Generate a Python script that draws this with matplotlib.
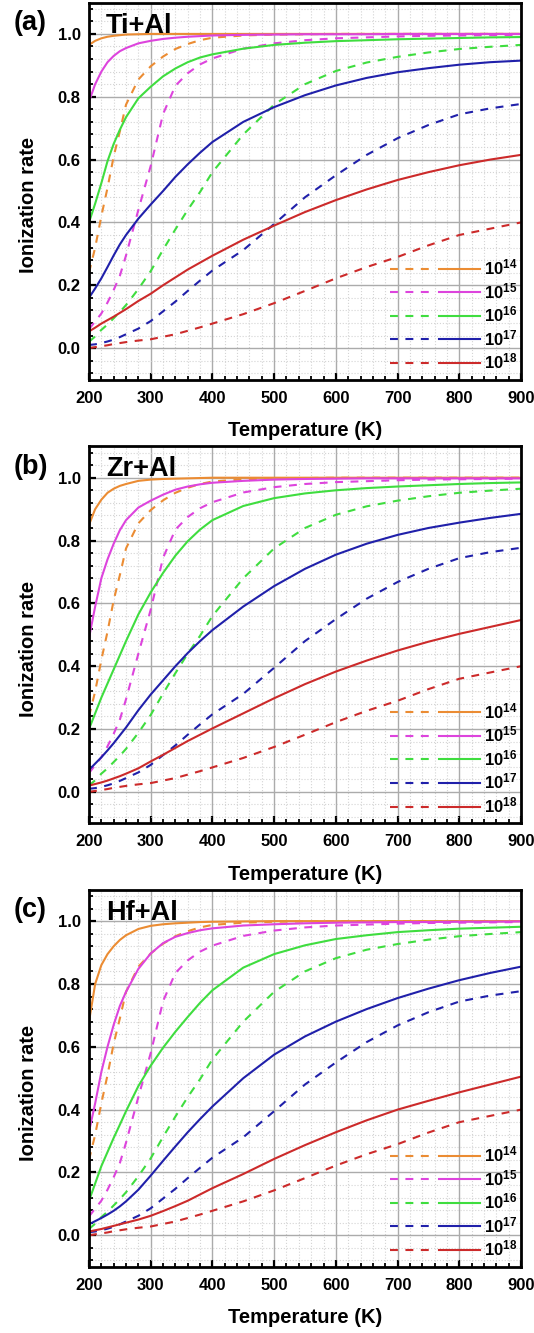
import matplotlib
matplotlib.use("Agg")
import matplotlib.pyplot as plt
from matplotlib.ticker import MultipleLocator
from matplotlib.legend_handler import HandlerTuple

plt.rcParams["font.family"] = ["Liberation Sans", "DejaVu Sans"]
plt.rcParams["font.weight"] = "bold"
plt.rcParams["mathtext.fontset"] = "custom"
plt.rcParams["mathtext.rm"] = "Liberation Sans:bold"
plt.rcParams["mathtext.bf"] = "Liberation Sans:bold"

# temperature grid (K)
T = [200, 210, 220, 230, 240, 250, 260, 280, 300, 320, 340, 360, 380, 400,
     450, 500, 550, 600, 650, 700, 750, 800, 850, 900]

doping = ["14", "15", "16", "17", "18"]
colors = ["#EB8C33", "#DD44DD", "#3FDD3F", "#2020AA", "#CC2A2A"]

# dashed curves (same in every panel)
d14 = [0.24, 0.32, 0.42, 0.51, 0.61, 0.69, 0.775, 0.855, 0.897, 0.928, 0.952, 0.968, 0.98, 0.988,
       0.995, 0.998, 0.999, 1.0, 1.0, 1.0, 1.0, 1.0, 1.0, 1.0]
d15 = [0.06, 0.085, 0.11, 0.145, 0.185, 0.23, 0.295, 0.44, 0.58, 0.745, 0.835, 0.875, 0.903, 0.922,
       0.953, 0.97, 0.98, 0.986, 0.989, 0.992, 0.994, 0.995, 0.996, 0.997]
d16 = [0.02, 0.037, 0.058, 0.075, 0.095, 0.115, 0.137, 0.188, 0.245, 0.313, 0.378, 0.44, 0.497, 0.56,
       0.68, 0.775, 0.84, 0.882, 0.909, 0.927, 0.941, 0.952, 0.959, 0.965]
d17 = [0.01, 0.012, 0.016, 0.021, 0.027, 0.035, 0.044, 0.062, 0.086, 0.117, 0.148, 0.182, 0.215, 0.247,
       0.312, 0.395, 0.48, 0.55, 0.615, 0.668, 0.71, 0.744, 0.763, 0.777]
d18 = [0.0, 0.003, 0.006, 0.009, 0.013, 0.016, 0.019, 0.024, 0.028, 0.036, 0.044, 0.055, 0.066, 0.078,
       0.108, 0.143, 0.182, 0.222, 0.258, 0.29, 0.327, 0.36, 0.38, 0.40]

# (a) Ti+Al
a14 = [0.965, 0.978, 0.986, 0.991, 0.994, 0.996, 0.998, 0.999, 1.0, 1.0, 1.0, 1.0, 1.0, 1.0,
       1.0, 1.0, 1.0, 1.0, 1.0, 1.0, 1.0, 1.0, 1.0, 1.0]
a15 = [0.785, 0.84, 0.88, 0.91, 0.93, 0.945, 0.955, 0.97, 0.978, 0.984, 0.988, 0.991, 0.993, 0.995,
       0.997, 0.998, 0.999, 0.999, 0.999, 1.0, 1.0, 1.0, 1.0, 1.0]
a16 = [0.40, 0.46, 0.525, 0.595, 0.65, 0.695, 0.735, 0.795, 0.832, 0.865, 0.89, 0.91, 0.925, 0.935,
       0.953, 0.965, 0.972, 0.977, 0.98, 0.983, 0.985, 0.987, 0.989, 0.99]
a17 = [0.16, 0.19, 0.222, 0.258, 0.295, 0.33, 0.36, 0.412, 0.457, 0.50, 0.545, 0.585, 0.622, 0.656,
       0.72, 0.767, 0.805, 0.836, 0.86, 0.878, 0.891, 0.902, 0.91, 0.915]
a18 = [0.053, 0.065, 0.078, 0.089, 0.10, 0.112, 0.124, 0.15, 0.173, 0.20, 0.225, 0.25, 0.272, 0.294,
       0.345, 0.39, 0.433, 0.471, 0.505, 0.535, 0.56, 0.582, 0.60, 0.615]

# (b) Zr+Al
b14 = [0.85, 0.90, 0.93, 0.952, 0.965, 0.974, 0.98, 0.99, 0.994, 0.996, 0.997, 0.998, 0.999, 1.0,
       1.0, 1.0, 1.0, 1.0, 1.0, 1.0, 1.0, 1.0, 1.0, 1.0]
b15 = [0.49, 0.59, 0.68, 0.74, 0.79, 0.833, 0.865, 0.905, 0.927, 0.946, 0.962, 0.972, 0.979, 0.984,
       0.99, 0.994, 0.996, 0.997, 0.998, 0.998, 0.998, 0.998, 0.998, 0.998]
b16 = [0.20, 0.25, 0.30, 0.345, 0.39, 0.435, 0.48, 0.565, 0.635, 0.697, 0.752, 0.798, 0.835, 0.865,
       0.91, 0.935, 0.95, 0.96, 0.967, 0.972, 0.976, 0.98, 0.983, 0.985]
b17 = [0.07, 0.09, 0.11, 0.132, 0.155, 0.18, 0.205, 0.26, 0.31, 0.355, 0.40, 0.442, 0.48, 0.515,
       0.59, 0.655, 0.71, 0.755, 0.79, 0.818, 0.84, 0.857, 0.872, 0.885]
b18 = [0.02, 0.025, 0.03, 0.036, 0.043, 0.05, 0.058, 0.075, 0.097, 0.118, 0.14, 0.162, 0.182, 0.202,
       0.25, 0.298, 0.343, 0.383, 0.418, 0.45, 0.478, 0.503, 0.525, 0.547]

# (c) Hf+Al
c14 = [0.68, 0.80, 0.86, 0.895, 0.92, 0.94, 0.955, 0.975, 0.985, 0.99, 0.993, 0.995, 0.997, 0.998,
       0.999, 1.0, 1.0, 1.0, 1.0, 1.0, 1.0, 1.0, 1.0, 1.0]
c15 = [0.33, 0.42, 0.52, 0.60, 0.67, 0.73, 0.775, 0.848, 0.897, 0.93, 0.95, 0.962, 0.971, 0.977,
       0.986, 0.99, 0.993, 0.995, 0.996, 0.997, 0.997, 0.998, 0.998, 0.999]
c16 = [0.11, 0.165, 0.22, 0.265, 0.31, 0.352, 0.395, 0.475, 0.54, 0.597, 0.648, 0.695, 0.74, 0.78,
       0.852, 0.895, 0.923, 0.943, 0.955, 0.965, 0.971, 0.976, 0.979, 0.982]
c17 = [0.035, 0.045, 0.055, 0.066, 0.078, 0.092, 0.108, 0.145, 0.19, 0.237, 0.283, 0.328, 0.37, 0.41,
       0.50, 0.575, 0.633, 0.68, 0.72, 0.755, 0.785, 0.812, 0.835, 0.855]
c18 = [0.012, 0.016, 0.02, 0.025, 0.03, 0.035, 0.04, 0.05, 0.062, 0.077, 0.093, 0.11, 0.13, 0.15,
       0.195, 0.243, 0.287, 0.328, 0.366, 0.40, 0.428, 0.455, 0.48, 0.505]

dashed = [d14, d15, d16, d17, d18]
panels = [
    ("(a)", "Ti+Al", [a14, a15, a16, a17, a18]),
    ("(b)", "Zr+Al", [b14, b15, b16, b17, b18]),
    ("(c)", "Hf+Al", [c14, c15, c16, c17, c18]),
]

fig = plt.figure(figsize=(5.34, 13.33), dpi=100)
left, width = 89 / 534, 432 / 534
bottoms = [1 - 379.5 / 1333, 1 - 823.3 / 1333, 1 - 1266.7 / 1333]
height = 377 / 1333

for (plabel, title, solids), bot in zip(panels, bottoms):
    ax = fig.add_axes([left, bot, width, height])
    handles = []
    for i in range(5):
        ld, = ax.plot(T, dashed[i], color=colors[i], lw=1.5, ls=(0, (3.8, 3.6)))
        ls_, = ax.plot(T, solids[i], color=colors[i], lw=1.5)
        handles.append((ld, ls_))

    ax.set_xlim(200, 900)
    ax.set_ylim(-0.1, 1.1)
    ax.xaxis.set_major_locator(MultipleLocator(100))
    ax.xaxis.set_minor_locator(MultipleLocator(20))
    ax.yaxis.set_major_locator(MultipleLocator(0.2))
    ax.yaxis.set_minor_locator(MultipleLocator(0.04))
    ax.set_axisbelow(True)
    ax.grid(which="major", color="#ababab", lw=1.0)
    ax.grid(which="minor", color="#d4d4d4", lw=0.8, ls=":")
    ax.tick_params(which="both", direction="in", top=False, right=False,
                   labelsize=12)
    ax.tick_params(which="major", length=5, width=1.6)
    ax.tick_params(axis="y", which="major", pad=6)
    ax.tick_params(axis="x", which="major", pad=8)
    ax.tick_params(which="minor", length=3.2, width=1.3)
    for lab in ax.get_xticklabels() + ax.get_yticklabels():
        lab.set_fontweight("bold")
    for sp in ax.spines.values():
        sp.set_linewidth(2)

    ax.set_xlabel("Temperature (K)", fontsize=14.5, fontweight="bold", labelpad=11)
    ax.set_ylabel("Ionization rate", fontsize=14.5, fontweight="bold")
    ax.yaxis.set_label_coords(-0.118, 0.462)

    ax.text(0.039, 0.92, title, transform=ax.transAxes, fontsize=19.5,
            fontweight="bold", ha="left", va="baseline")
    ax.text(-0.175, 0.927, plabel, transform=ax.transAxes, fontsize=19.5,
            fontweight="bold", ha="left", va="baseline")

    ax.legend(handles, [r"$\mathbf{10^{%s}}$" % d for d in doping],
              handler_map={tuple: HandlerTuple(ndivide=None, pad=0.45)},
              loc="lower right", bbox_to_anchor=(1.0, 0.012), borderaxespad=0,
              frameon=False, fontsize=12, handlelength=5.4, handletextpad=0.25,
              labelspacing=0.22, borderpad=0.2)

fig.savefig("out.png", dpi=100)
